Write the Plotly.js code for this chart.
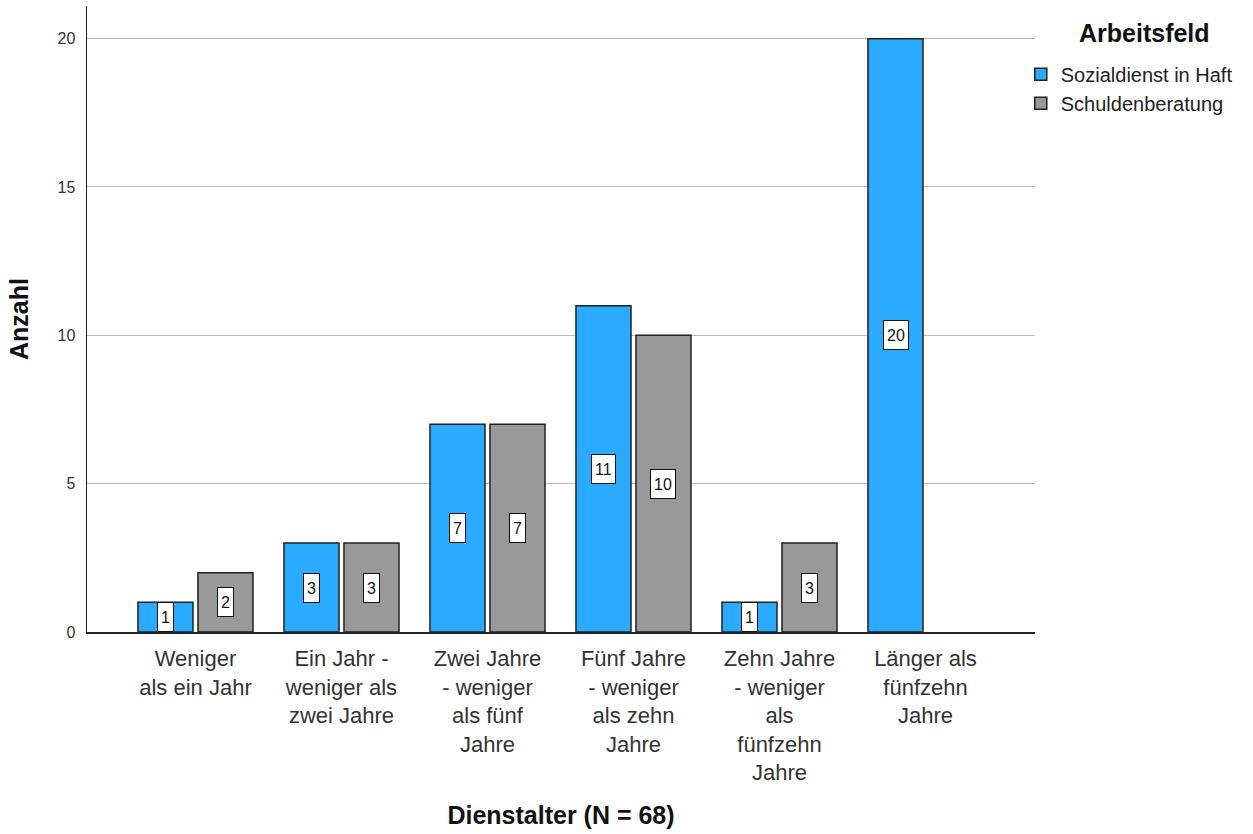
<!DOCTYPE html>
<html><head><meta charset="utf-8">
<script src="https://cdn.plot.ly/plotly-3.0.1.min.js"></script>
<style>body{margin:0;background:#fff}#c{width:1253px;height:834px}</style>
</head><body><div id="c"></div>
<script>
const categories = [
  "Weniger<br>als ein Jahr",
  "Ein Jahr -<br>weniger als<br>zwei Jahre",
  "Zwei Jahre<br>- weniger<br>als fünf<br>Jahre",
  "Fünf Jahre<br>- weniger<br>als zehn<br>Jahre",
  "Zehn Jahre<br>- weniger<br>als<br>fünfzehn<br>Jahre",
  "Länger als<br>fünfzehn<br>Jahre"
];
const seriesNames = ["Sozialdienst in Haft", "Schuldenberatung"];
const sozialdienst = [1, 3, 7, 11, 1, 20];
const schuldenberatung = [2, 3, 7, 10, 3, 0];
const yTicks = [0, 5, 10, 15, 20];

const colors = ["#2AABFF", "#999999"];
const series = [sozialdienst, schuldenberatung];

const traces = series.map((vals, i) => ({
  type: "bar",
  name: seriesNames[i],
  legendgroup: "g" + i,
  x: categories,
  y: vals,
  marker: {color: colors[i], line: {color: "#222", width: vals.map(v => v > 0 ? 1.5 : 0)}},
  hoverinfo: "none"
}));

const annotations = [];
series.forEach((vals, i) => {
  vals.forEach((v, j) => {
    if (v > 0) {
      annotations.push({
        x: categories[j], y: v / 2, xref: "x", yref: "y",
        text: String(v), showarrow: false,
        xshift: (i === 0 ? -30 : 30),
        font: {family: "Liberation Sans, Arial", size: 16, color: "#111"},
        bgcolor: "#fff", bordercolor: "#111", borderwidth: 1,
        borderpad: 3, height: 22
      });
    }
  });
});

annotations.push({
  xref: "paper", yref: "paper", x: 1.116, y: 0.957, xanchor: "center", yanchor: "middle",
  text: "<b>Arbeitsfeld</b>", showarrow: false,
  font: {family: "Liberation Sans, Arial", size: 25, color: "#111"}
});

const layout = {
  width: 1253, height: 834,
  margin: {l: 87, r: 218, t: 6, b: 202},
  paper_bgcolor: "#fff", plot_bgcolor: "#fff",
  barmode: "group", bargap: 0.178, bargroupgap: 0.083,
  font: {family: "Liberation Sans, Arial", color: "#222"},
  showlegend: true,
  legend: {
    x: 0.985, xanchor: "left", y: 0.922, yanchor: "top",
    font: {size: 20, color: "#222"},
    bgcolor: "rgba(0,0,0,0)",
    tracegroupgap: 0
  },
  xaxis: {
    type: "category", range: [-0.743, 5.75],
    showline: true, linecolor: "#222", linewidth: 1.5,
    ticks: "", tickfont: {size: 22, color: "#333"},
    tickangle: 0, ticklabelstandoff: 6,
    title: {text: "<b>Dienstalter (N = 68)</b>", font: {size: 25, color: "#111"}, standoff: 22},
    automargin: false
  },
  yaxis: {
    range: [0, 21.1], tickvals: yTicks,
    showline: true, linecolor: "#222", linewidth: 1.5,
    showgrid: true, gridcolor: "#bbbbbb", gridwidth: 1,
    zeroline: false, ticks: "", ticklen: 0,
    tickfont: {size: 16, color: "#333"}, ticklabelstandoff: 7,
    title: {text: "<b>Anzahl</b>", font: {size: 25, color: "#111"}, standoff: 22},
    automargin: false
  },
  annotations: annotations
};

Plotly.newPlot("c", traces, layout, {displayModeBar: false, staticPlot: true});
</script>
</body></html>
